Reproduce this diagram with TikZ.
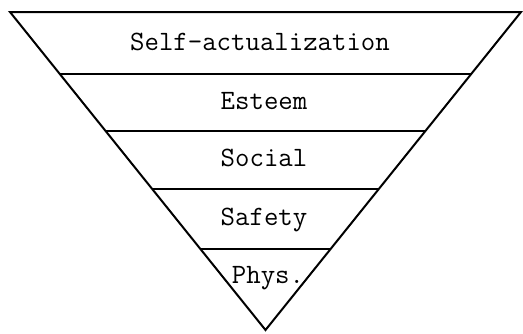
\documentclass[tikz,border=0pt]{standalone}
\usepackage{tikz}
\usetikzlibrary{calc}
\tikzset{
  edge/.style={draw,line width=1pt,line join=miter},
  rung/.style={draw,line width=0.9pt},
  need/.style={font=\ttfamily\fontsize{14}{17}\selectfont,inner sep=0pt,anchor=base},
}

\begin{document}
\begin{tikzpicture}[x=0.5pt,y=-0.5pt]
  \useasboundingbox (0,0) rectangle (523,333);
  %% ── Inverted triangle ────────────────────────────────────────────────────
  \coordinate (tl)   at (10,12);
  \coordinate (tr)   at (521,12);
  \coordinate (apex) at (265.5,330);
  \draw[edge] (tl) -- (tr) -- (apex) -- cycle;

  %% ── Level dividers ──────────────────────────────────────────────────────
  \foreach \n/\t in {a/0.805,b/0.626,c/0.443,d/0.255}{
    \coordinate (l\n) at ($(apex)!\t!(tl)$);
    \coordinate (r\n) at ($(apex)!\t!(tr)$);
    \draw[rung] (l\n) -- (r\n);
  }

  %% ── Labels ──────────────────────────────────────────────────────────────
  \node[need] (self)   at (260,50)  {Self-actualization};
  \node[need] (esteem) at (264,109) {Esteem};
  \node[need] (social) at (264,166) {Social};
  \node[need] (safety) at (264,225) {Safety};
  \node[need] (phys)   at (268,283) {Phys.};
\end{tikzpicture}
\end{document}
